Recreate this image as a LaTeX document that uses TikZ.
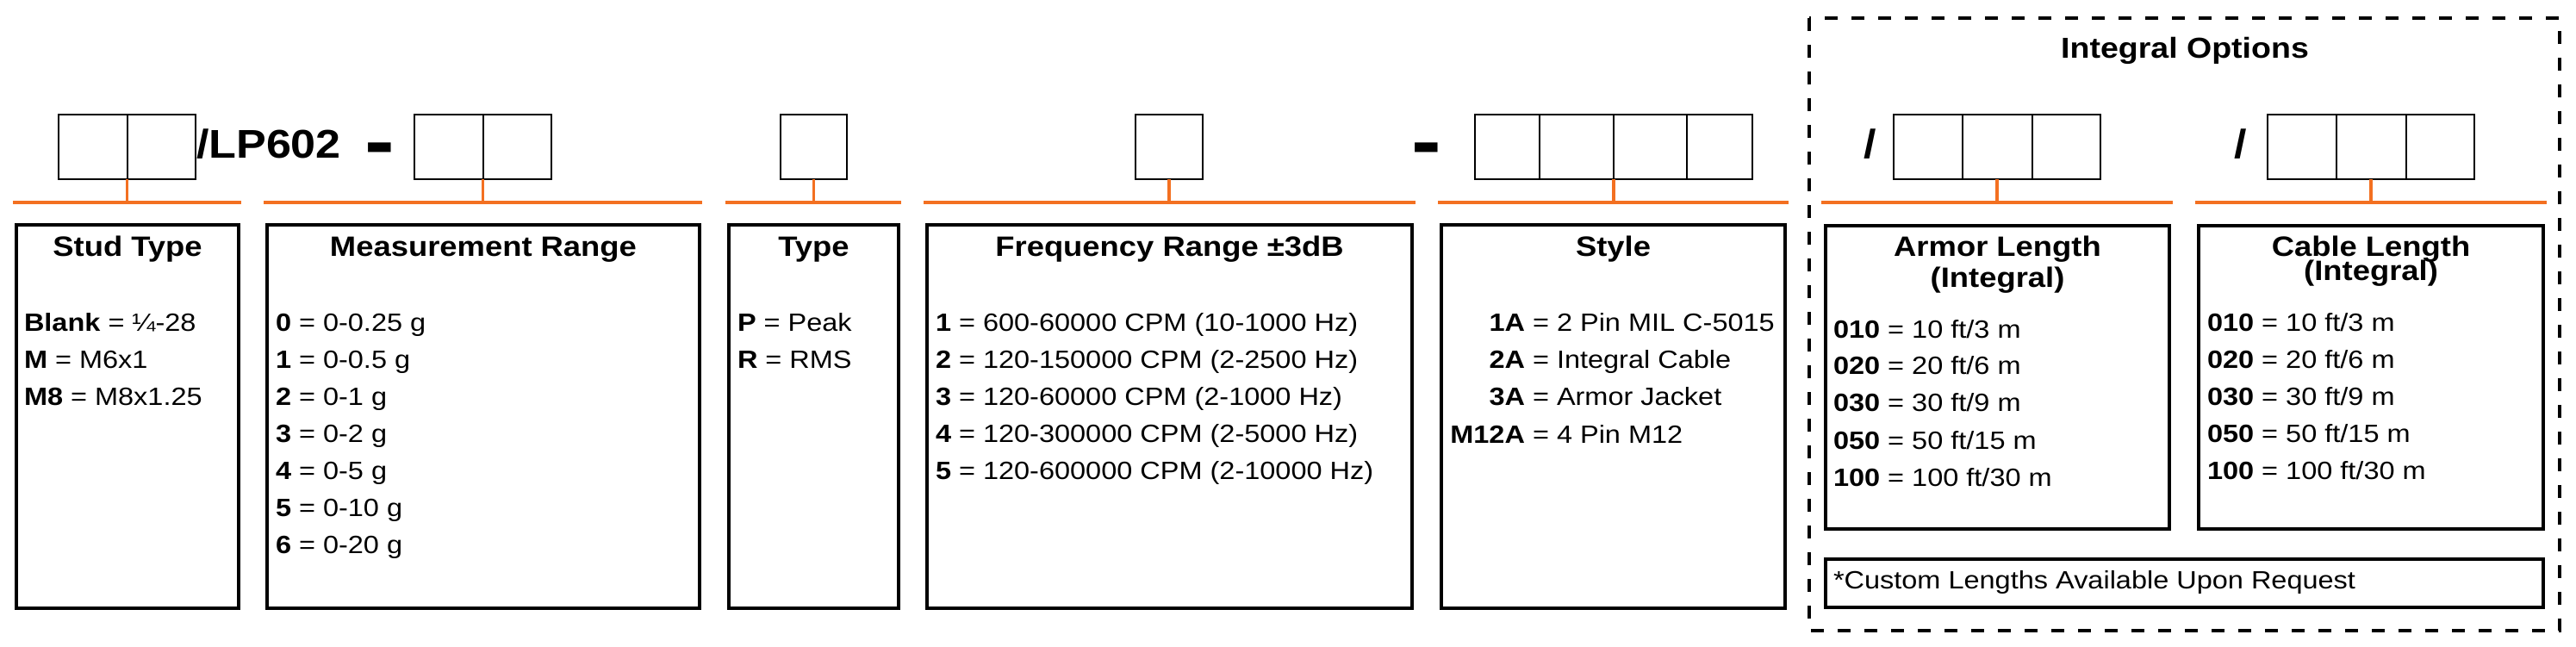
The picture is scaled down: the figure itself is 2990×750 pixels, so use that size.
\documentclass[tikz,border=0pt]{standalone}
\usepackage{fontspec}
\setmainfont{Liberation Sans}[FakeStretch=1.12]
\definecolor{pnorange}{HTML}{F37021}
\newcommand\fItem{\fontsize{29}{35}\selectfont}
\newcommand\fTitle{\fontsize{32.5}{38}\selectfont\bfseries}
\newcommand\fBig{\fontsize{46.5}{52}\selectfont\bfseries}
\newcommand\fDash{\fontsize{93}{100}\selectfont\bfseries}
\newcommand\fHead{\fontsize{33.5}{40}\selectfont\bfseries}
\begin{document}
\begin{tikzpicture}[x=1pt,y=-1pt,
  codebox/.style={draw=black, line width=2pt, inner sep=0, outer sep=0, minimum height=75pt},
  infobox/.style={draw=black, line width=4pt, inner sep=0, outer sep=0},
  bar/.style={draw=pnorange, line width=4pt},
  stem/.style={draw=pnorange, line width=3.5pt},
  divider/.style={draw=black, line width=2pt},
  txt/.style={inner sep=0, outer sep=0, font=\fItem},
  ttl/.style={inner sep=0, outer sep=0, font=\fTitle, anchor=base},
  dashbox/.style={draw=black, line width=4pt, dash pattern=on 15pt off 16pt},
]
\useasboundingbox (0,0) rectangle (2990,750);
\fill[white] (0,0) rectangle (2990,750);

% ---------- code boxes ----------
\node[codebox, minimum width=159pt] (cStud) at (147.5,170.5) {};
\draw[divider] (cStud.north) -- (cStud.south);
\node[txt, font=\fBig, anchor=base west] (lp) at (228,183) {/LP602};
\node[txt, font=\fDash, anchor=base] (dashA) at (441,195) {-};
\node[codebox, minimum width=159pt] (cMeas) at (560.5,170.5) {};
\draw[divider] (cMeas.north) -- (cMeas.south);
\node[codebox, minimum width=77pt] (cType) at (944.5,170.5) {};
\node[codebox, minimum width=78pt] (cFreq) at (1357,170.5) {};
\node[txt, font=\fDash, anchor=base] (dashB) at (1656,195) {-};
\node[codebox, minimum width=322pt] (cStyle) at (1873,170.5) {};
\draw[divider] (1787,133) -- (1787,208);
\draw[divider] (cStyle.north) -- (cStyle.south);
\draw[divider] (1958,133) -- (1958,208);
\node[txt, font=\fBig, anchor=base west] (slA) at (2163,183) {/};
\node[codebox, minimum width=240pt] (cArmor) at (2318,170.5) {};
\draw[divider] (2278,133) -- (2278,208);
\draw[divider] (2359,133) -- (2359,208);
\node[txt, font=\fBig, anchor=base west] (slB) at (2593,183) {/};
\node[codebox, minimum width=240pt] (cCable) at (2752,170.5) {};
\draw[divider] (2712,133) -- (2712,208);
\draw[divider] (2793,133) -- (2793,208);

% ---------- orange bars and stems ----------
\coordinate (jStud) at (147.5,235);
\coordinate (jMeas) at (560.5,235);
\coordinate (jType) at (944.5,235);
\coordinate (jFreq) at (1357,235);
\coordinate (jStyle) at (1873,235);
\coordinate (jArmor) at (2318,235);
\coordinate (jCable) at (2752,235);
\draw[bar] (15,235) -- (280,235);
\draw[bar] (306,235) -- (815,235);
\draw[bar] (842,235) -- (1046,235);
\draw[bar] (1072,235) -- (1643,235);
\draw[bar] (1669,235) -- (2076,235);
\draw[bar] (2114,235) -- (2522,235);
\draw[bar] (2548,235) -- (2956,235);
\draw[stem] (cStud.south) -- (jStud);
\draw[stem] (cMeas.south) -- (jMeas);
\draw[stem] (cType.south) -- (jType);
\draw[stem] (cFreq.south) -- (jFreq);
\draw[stem] (cStyle.south) -- (jStyle);
\draw[stem] (cArmor.south) -- (jArmor);
\draw[stem] (cCable.south) -- (jCable);

% ---------- info boxes ----------
\node[infobox, minimum width=258pt, minimum height=445pt] (bStud) at (148,483.5) {};
\node[infobox, minimum width=502pt, minimum height=445pt] (bMeas) at (561,483.5) {};
\node[infobox, minimum width=197pt, minimum height=445pt] (bType) at (944.5,483.5) {};
\node[infobox, minimum width=563pt, minimum height=445pt] (bFreq) at (1357.5,483.5) {};
\node[infobox, minimum width=399pt, minimum height=445pt] (bStyle) at (1872.5,483.5) {};
\node[infobox, minimum width=399pt, minimum height=352pt] (bArmor) at (2318.5,438) {};
\node[infobox, minimum width=400pt, minimum height=352pt] (bCable) at (2752,438) {};
\node[infobox, minimum width=833pt, minimum height=56pt] (bCustom) at (2535.5,677) {};
\draw[dashbox] (2100,21) rectangle (2971,732);

% ---------- titles ----------
\node[txt, font=\fHead, anchor=base] (tInt) at (2536,67) {Integral Options};
\node[ttl] (tStud) at (148,297) {Stud Type};
\node[ttl] (tMeas) at (561,297) {Measurement Range};
\node[ttl] (tType) at (944.5,297) {Type};
\node[ttl] (tFreq) at (1357.5,297) {Frequency Range ±3dB};
\node[ttl] (tStyle) at (1872.5,297) {Style};
\node[ttl] (tArmorA) at (2318.5,297) {Armor Length};
\node[ttl] (tArmorB) at (2318.5,333) {(Integral)};
\node[ttl] (tCableA) at (2752,297) {Cable Length};
\node[ttl] (tCableB) at (2752,325) {(Integral)};

% ---------- items ----------
\node[txt, anchor=base west] (s1) at (28,384) {\textbf{Blank} = ¼-28};
\node[txt, anchor=base west] (s2) at (28,427) {\textbf{M} = M6x1};
\node[txt, anchor=base west] (s3) at (28,470) {\textbf{M8} = M8x1.25};

\node[txt, anchor=base west] (m0) at (320,384) {\textbf{0} = 0-0.25 g};
\node[txt, anchor=base west] (m1) at (320,427) {\textbf{1} = 0-0.5 g};
\node[txt, anchor=base west] (m2) at (320,470) {\textbf{2} = 0-1 g};
\node[txt, anchor=base west] (m3) at (320,513) {\textbf{3} = 0-2 g};
\node[txt, anchor=base west] (m4) at (320,556) {\textbf{4} = 0-5 g};
\node[txt, anchor=base west] (m5) at (320,599) {\textbf{5} = 0-10 g};
\node[txt, anchor=base west] (m6) at (320,642) {\textbf{6} = 0-20 g};

\node[txt, anchor=base west] (p1) at (856,384) {\textbf{P} = Peak};
\node[txt, anchor=base west] (p2) at (856,427) {\textbf{R} = RMS};

\node[txt, anchor=base west] (f1) at (1086,384) {\textbf{1} = 600-60000 CPM (10-1000 Hz)};
\node[txt, anchor=base west] (f2) at (1086,427) {\textbf{2} = 120-150000 CPM (2-2500 Hz)};
\node[txt, anchor=base west] (f3) at (1086,470) {\textbf{3} = 120-60000 CPM (2-1000 Hz)};
\node[txt, anchor=base west] (f4) at (1086,513) {\textbf{4} = 120-300000 CPM (2-5000 Hz)};
\node[txt, anchor=base west] (f5) at (1086,556) {\textbf{5} = 120-600000 CPM (2-10000 Hz)};

\node[txt, anchor=base west] (y1) at (1770,384) {\llap{\textbf{1A}} = 2 Pin MIL C-5015};
\node[txt, anchor=base west] (y2) at (1770,427) {\llap{\textbf{2A}} = Integral Cable};
\node[txt, anchor=base west] (y3) at (1770,470) {\llap{\textbf{3A}} = Armor Jacket};
\node[txt, anchor=base west] (y4) at (1770,514) {\llap{\textbf{M12A}} = 4 Pin M12};

\node[txt, anchor=base west] (a1) at (2128,392) {\textbf{010} = 10 ft/3 m};
\node[txt, anchor=base west] (a2) at (2128,434) {\textbf{020} = 20 ft/6 m};
\node[txt, anchor=base west] (a3) at (2128,477) {\textbf{030} = 30 ft/9 m};
\node[txt, anchor=base west] (a4) at (2128,521) {\textbf{050} = 50 ft/15 m};
\node[txt, anchor=base west] (a5) at (2128,564) {\textbf{100} = 100 ft/30 m};

\node[txt, anchor=base west] (k1) at (2562,384) {\textbf{010} = 10 ft/3 m};
\node[txt, anchor=base west] (k2) at (2562,427) {\textbf{020} = 20 ft/6 m};
\node[txt, anchor=base west] (k3) at (2562,470) {\textbf{030} = 30 ft/9 m};
\node[txt, anchor=base west] (k4) at (2562,513) {\textbf{050} = 50 ft/15 m};
\node[txt, anchor=base west] (k5) at (2562,556) {\textbf{100} = 100 ft/30 m};

\node[txt, anchor=base west] (cu) at (2128,683) {*Custom Lengths Available Upon Request};
\end{tikzpicture}
\end{document}
